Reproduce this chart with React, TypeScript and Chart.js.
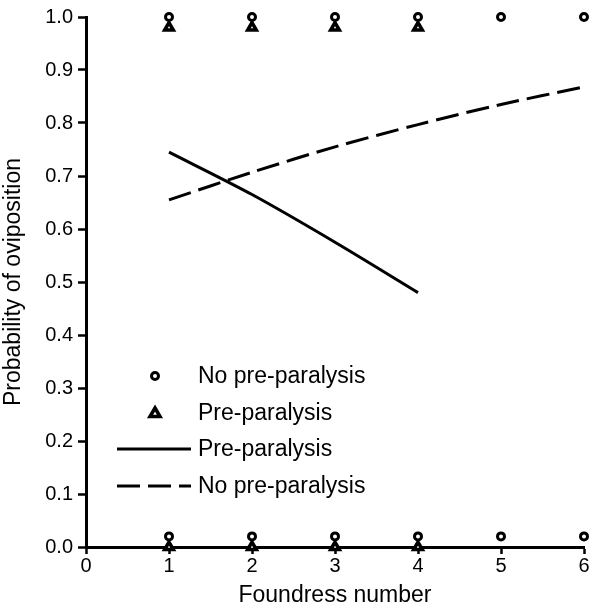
import React, { useEffect, useRef } from "react";
import { Chart, registerables } from "chart.js";

Chart.register(...registerables);

const foundressX = [1, 2, 3, 4, 5, 6];
const foundressPre = [1, 2, 3, 4];
const noPreTop = [1, 1, 1, 1, 1, 1];
const noPreBottom = [0.02, 0.02, 0.02, 0.02, 0.02, 0.02];
const preTop = [0.98, 0.98, 0.98, 0.98];
const preBottom = [0, 0, 0, 0];
const preFit = [0.745, 0.665, 0.575, 0.48];
const noPreFit = [0.655, 0.707, 0.755, 0.797, 0.835, 0.868];
const legendLabels = ["No pre-paralysis", "Pre-paralysis", "Pre-paralysis", "No pre-paralysis"];

const FONT = "'Liberation Sans', Arial, sans-serif";

const legendPlugin = {
  id: "customLegend",
  afterDraw(chart: any) {
    const ctx = chart.ctx;
    ctx.save();
    const rows = [376, 413, 449, 486];
    ctx.strokeStyle = "#000";
    // circle
    ctx.lineWidth = 3;
    ctx.beginPath();
    ctx.arc(155, rows[0], 3.5, 0, Math.PI * 2);
    ctx.fillStyle = "#fff";
    ctx.fill();
    ctx.stroke();
    // triangle
    ctx.lineWidth = 3.5;
    ctx.beginPath();
    ctx.moveTo(155, rows[1] - 5);
    ctx.lineTo(160, rows[1] + 3.5);
    ctx.lineTo(150, rows[1] + 3.5);
    ctx.closePath();
    ctx.fill();
    ctx.stroke();
    // solid line
    ctx.lineWidth = 3;
    ctx.beginPath();
    ctx.moveTo(117, rows[2]);
    ctx.lineTo(191, rows[2]);
    ctx.stroke();
    // dashed line
    ctx.setLineDash([23, 8]);
    ctx.beginPath();
    ctx.moveTo(117, rows[3]);
    ctx.lineTo(191, rows[3]);
    ctx.stroke();
    ctx.setLineDash([]);
    ctx.fillStyle = "#000";
    ctx.font = "23px " + FONT;
    ctx.textBaseline = "middle";
    ctx.textAlign = "left";
    legendLabels.forEach((t, i) => ctx.fillText(t, 198, rows[i] + 1));
    ctx.restore();
  },
};

export default function App() {
  const ref = useRef<HTMLCanvasElement>(null);
  useEffect(() => {
    if (!ref.current) return;
    const pts = (xs: number[], ys: number[]) => xs.map((x, i) => ({ x, y: ys[i] }));
    const circleStyle = {
      showLine: false,
      pointStyle: "circle",
      pointRadius: 3.5,
      pointBorderWidth: 3,
      pointBackgroundColor: "#fff",
      pointBorderColor: "#000",
      clip: false,
    };
    const triStyle = {
      showLine: false,
      pointStyle: "triangle",
      pointRadius: 5,
      pointBorderWidth: 3.5,
      pointBackgroundColor: "#fff",
      pointBorderColor: "#000",
      clip: false,
    };
    const chart = new Chart(ref.current, {
      type: "scatter",
      data: {
        datasets: [
          { data: pts(foundressPre, preTop), ...triStyle } as any,
          { data: pts(foundressPre, preBottom), ...triStyle } as any,
          { data: pts(foundressX, noPreTop), ...circleStyle } as any,
          { data: pts(foundressX, noPreBottom), ...circleStyle } as any,
          {
            type: "line",
            data: pts(foundressPre, preFit),
            borderColor: "#000",
            borderWidth: 3,
            pointRadius: 0,
            tension: 0.3,
            fill: false,
          } as any,
          {
            type: "line",
            data: pts(foundressX, noPreFit),
            borderColor: "#000",
            borderWidth: 3,
            borderDash: [23, 8],
            pointRadius: 0,
            tension: 0.3,
            fill: false,
          } as any,
        ],
      },
      options: {
        animation: false,
        responsive: false,
        layout: { padding: { top: 17, right: 11, left: 0, bottom: 0 } },
        plugins: { legend: { display: false }, tooltip: { enabled: false } },
        scales: {
          x: {
            type: "linear",
            min: 0,
            max: 6,
            ticks: { stepSize: 1, color: "#000", font: { family: FONT, size: 20 }, padding: 0 },
            grid: { drawOnChartArea: false, tickLength: 7, tickWidth: 2.5, tickColor: "#000" },
            border: { color: "#000", width: 3 },
            title: { display: true, text: "Foundress number", color: "#000", font: { family: FONT, size: 23 }, padding: { top: 0, bottom: 1 } },
            afterFit(s: any) { s.height = 63; },
          },
          y: {
            type: "linear",
            min: 0,
            max: 1,
            ticks: { stepSize: 0.1, color: "#000", font: { family: FONT, size: 20 }, padding: 5, callback: (v: any) => Number(v).toFixed(1) },
            grid: { drawOnChartArea: false, tickLength: 8, tickWidth: 2.5, tickColor: "#000" },
            border: { color: "#000", width: 3 },
            title: { display: true, text: "Probability of oviposition", color: "#000", font: { family: FONT, size: 23 }, padding: { top: 0, bottom: 0 } },
            afterFit(s: any) { s.width = 86; },
          },
        },
      } as any,
      plugins: [legendPlugin],
    });
    return () => chart.destroy();
  }, []);
  return (
    <div style={{ position: "absolute", left: 0, top: 0, width: 595, height: 610, background: "#fff" }}>
      <canvas ref={ref} width={595} height={610} style={{ width: 595, height: 610 }} />
    </div>
  );
}
